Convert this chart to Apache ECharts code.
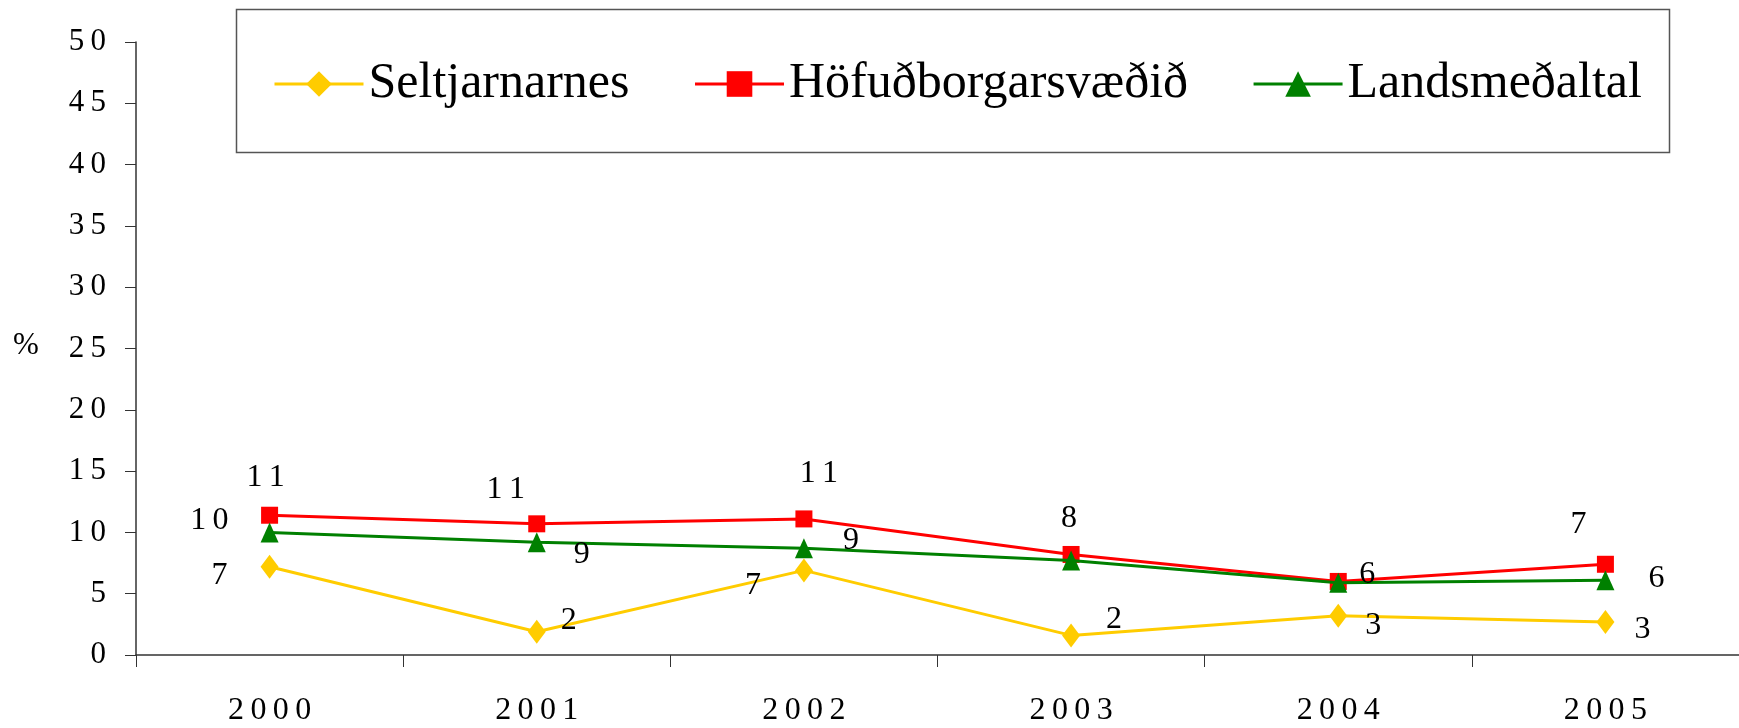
<!DOCTYPE html>
<html>
<head>
<meta charset="utf-8">
<script src="https://cdn.jsdelivr.net/npm/echarts@6/dist/echarts.min.js"></script>
<style>html,body{margin:0;padding:0;background:#fff}#c{width:1739px;height:728px}</style>
</head>
<body>
<div id="c"></div>
<script>
const categories = ['2000', '2001', '2002', '2003', '2004', '2005'];
const seriesNames = ['Seltjarnarnes', 'Höfuðborgarsvæðið', 'Landsmeðaltal'];
const seltjarnarnes = [7.2, 1.9, 6.9, 1.6, 3.2, 2.7];
const hofudborgarsvaedid = [11.4, 10.7, 11.1, 8.2, 6.0, 7.4];
const landsmedaltal = [10.0, 9.2, 8.7, 7.7, 5.9, 6.1];
const yTicks = [0, 5, 10, 15, 20, 25, 30, 35, 40, 45, 50];

// label placement (style only)
const seltLabelPos = [['left',[-19,9]],['right',[1,-11]],['left',[-20,15]],['right',[12,-16]],['right',[4,10]],['right',[6,8]]];
const hofLabelPos = [['top',[-4,1]],['top',[-31,4]],['top',[15,-7]],['top',[-2,3]],null,['top',[-27,-1]]];
const landLabelPos = [['left',[-18,-12]],['right',[14,12]],['right',[16,-8]],null,['right',[-2,-8]],['right',[20,-2]]];

const FONT = '"Liberation Serif", "DejaVu Serif", serif';
const spaced = (s) => String(s).split('').join('\u2009');

function buildData(values, pos) {
  return values.map((v, i) => {
    const p = pos[i];
    if (!p) return { value: v, label: { show: false } };
    return { value: v, label: { show: true, position: p[0], offset: p[1], distance: 14 } };
  });
}

const labelStyle = {
  show: true,
  formatter: (p) => spaced(Math.round(p.value)),
  fontFamily: FONT,
  fontSize: 32,
  color: '#000'
};

const chart = echarts.init(document.getElementById('c'));
chart.setOption({
  animation: false,
  backgroundColor: '#fff',
  grid: { left: 136, right: 0, top: 42, bottom: 73 },
  graphic: [
    { type: 'rect', shape: { x: 236.5, y: 9.5, width: 1433, height: 143 }, style: { fill: 'none', stroke: '#555', lineWidth: 1.5 }, z: -1 },
    { type: 'text', left: 13, top: 330, style: { text: '%', fontFamily: FONT, fontSize: 31, fill: '#000' } }
  ],
  legend: {
    left: 268,
    top: 54,
    itemWidth: 89,
    itemHeight: 32,
    itemGap: 64,
    data: seriesNames,
    lineStyle: { width: 3 },
    textStyle: { fontFamily: FONT, fontSize: 50, color: '#000' }
  },
  xAxis: {
    type: 'category',
    data: categories,
    boundaryGap: true,
    axisLine: { lineStyle: { color: '#333', width: 1.5 } },
    axisTick: { show: true, length: 12, inside: false, lineStyle: { color: '#333' } },
    axisLabel: { margin: 40, fontFamily: FONT, fontSize: 32, color: '#000', formatter: (v) => spaced(v) }
  },
  yAxis: {
    type: 'value',
    min: 0,
    max: 50,
    interval: 5,
    axisLine: { show: true, lineStyle: { color: '#333', width: 1.5 } },
    axisTick: { show: true, length: 11, lineStyle: { color: '#333' } },
    splitLine: { show: false },
    axisLabel: { margin: 30, fontFamily: FONT, fontSize: 31, color: '#000',
      formatter: (v) => yTicks.includes(v) ? spaced(v) : '' }
  },
  series: [
    {
      name: seriesNames[0], type: 'line', data: buildData(seltjarnarnes, seltLabelPos),
      symbol: 'diamond', symbolSize: [18, 24],
      lineStyle: { color: '#FFCC00', width: 3 }, itemStyle: { color: '#FFCC00' },
      label: labelStyle, z: 3
    },
    {
      name: seriesNames[1], type: 'line', data: buildData(hofudborgarsvaedid, hofLabelPos),
      symbol: 'rect', symbolSize: 17,
      lineStyle: { color: '#FF0000', width: 3 }, itemStyle: { color: '#FF0000' },
      label: labelStyle, z: 2
    },
    {
      name: seriesNames[2], type: 'line', data: buildData(landsmedaltal, landLabelPos),
      symbol: 'triangle', symbolSize: [18, 20],
      lineStyle: { color: '#008000', width: 3 }, itemStyle: { color: '#008000' },
      label: labelStyle, z: 4
    }
  ]
});
</script>
</body>
</html>
